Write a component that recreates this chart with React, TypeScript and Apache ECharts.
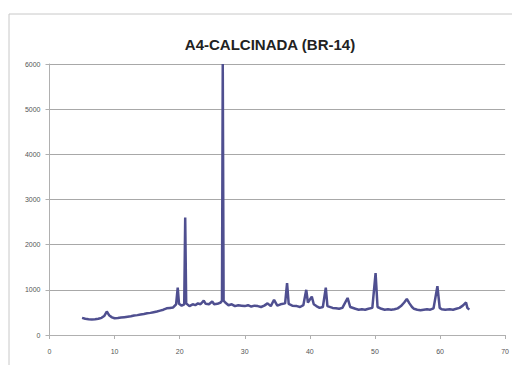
import React, { useEffect, useRef } from "react";
import * as echarts from "echarts";

const titleText = "A4-CALCINADA (BR-14)";
const twoTheta = [
  5.0, 5.5, 6.0, 6.5, 7.0, 7.5, 8.0, 8.4, 8.8, 9.2, 9.6, 10.0, 10.5, 11, 11.5, 12, 12.5, 13, 13.5, 14,
  14.5, 15, 15.5, 16, 16.5, 17, 17.5, 18, 18.5, 19.0, 19.45, 19.7, 19.9, 20.3, 20.7, 20.85, 21.0, 21.5,
  22, 22.4, 22.8, 23.2, 23.7, 24.0, 24.5, 25.0, 25.3, 25.8, 26.3, 26.5, 26.62, 26.75, 27.0, 27.5, 28,
  28.5, 29, 29.5, 30, 30.5, 31, 31.5, 32, 32.5, 33, 33.5, 34, 34.5, 35, 35.5, 36.2, 36.5, 36.75, 37.3,
  38, 38.5, 39, 39.45, 39.7, 40.3, 40.6, 41, 41.5, 42, 42.45, 42.7, 43.5, 44, 44.5, 45, 45.8, 46.2,
  47, 47.5, 48, 48.5, 49, 49.6, 50.1, 50.4, 51, 51.5, 52, 52.5, 53, 53.5, 54, 54.5, 54.9, 55.3, 55.7,
  56, 56.5, 57, 57.5, 58, 58.5, 59, 59.6, 59.95, 60.25, 60.8, 61.5, 62, 62.5, 63, 63.5, 64.0, 64.2,
  64.5, 65.0,
];
const intensity = [
  380, 360, 350, 345, 350, 360, 380, 420, 520, 430, 390, 370, 375, 385, 395, 405, 415, 430, 440, 455,
  465, 480, 490, 505, 520, 540, 560, 590, 600, 610, 680, 1050, 690, 650, 680, 2600, 700, 640,
  680, 660, 700, 680, 760, 690, 680, 740, 680, 690, 720, 760, 6000, 760, 720, 660, 680,
  640, 660, 650, 640, 660, 630, 650, 640, 620, 650, 700, 640, 780, 650, 680, 700, 1150, 690, 650,
  640, 620, 660, 1000, 720, 850, 680, 640, 600, 620, 1050, 640, 600, 590, 580, 600, 820, 620,
  580, 560, 570, 560, 580, 600, 1370, 620, 580, 560, 570, 560, 570, 590, 640, 720, 800, 700, 620,
  580, 560, 550, 560, 570, 560, 590, 1080, 600, 570, 560, 570, 560, 580, 600, 650, 720,
  600, 560,
];
const xTicks = [0, 10, 20, 30, 40, 50, 60, 70];
const yTicks = [0, 1000, 2000, 3000, 4000, 5000, 6000];

export default function App() {
  const ref = useRef<HTMLDivElement>(null);
  useEffect(() => {
    if (!ref.current) return;
    const chart = echarts.init(ref.current, null, { renderer: "svg" });
    const data = twoTheta.map((x, i) => [x, intensity[i]]);
    chart.setOption({
      animation: false,
      backgroundColor: "#ffffff",
      title: {
        text: titleText,
        left: 265,
        top: 32,
        textAlign: "center",
        textStyle: { fontFamily: "Liberation Sans", fontWeight: "bold", fontSize: 15, color: "#222" },
      },
      graphic: [
        {
          type: "rect",
          shape: { x: 9, y: 14, width: 520, height: 400 },
          style: { fill: "none", stroke: "#c8c8c8", lineWidth: 1 },
          silent: true,
        },
      ],
      grid: { left: 49.5, right: 4, top: 64, bottom: 30 },
      xAxis: {
        type: "value",
        min: xTicks[0],
        max: xTicks[xTicks.length - 1],
        interval: 10,
        splitLine: { show: false },
        axisLine: { lineStyle: { color: "#b0b0b0" } },
        axisTick: { show: true, length: 4, lineStyle: { color: "#b0b0b0" } },
        axisLabel: { fontSize: 7, color: "#555", margin: 13, fontFamily: "Liberation Sans" },
      },
      yAxis: {
        type: "value",
        min: yTicks[0],
        max: yTicks[yTicks.length - 1],
        interval: 1000,
        splitLine: { lineStyle: { color: "#a8a8a8", width: 1 } },
        axisLine: { show: true, lineStyle: { color: "#b0b0b0" } },
        axisTick: { show: true, length: 4, lineStyle: { color: "#b0b0b0" } },
        axisLabel: {
          fontSize: 7,
          color: "#555",
          margin: 9,
          fontFamily: "Liberation Sans",
          formatter: (v: number) => String(v),
        },
      },
      series: [
        {
          type: "line",
          data,
          showSymbol: false,
          lineStyle: { color: "#4f4f90", width: 2.5 },
        },
      ],
    });
    return () => chart.dispose();
  }, []);
  return <div ref={ref} style={{ position: "fixed", left: 0, top: 0, width: 512, height: 365 }} />;
}
